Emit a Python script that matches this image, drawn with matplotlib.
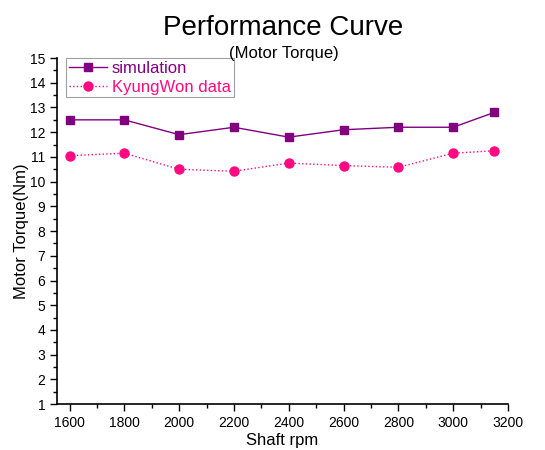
import numpy as np
import matplotlib.pyplot as plt
from matplotlib.ticker import MultipleLocator

plt.rcParams['font.family'] = ['Liberation Sans', 'DejaVu Sans']

# data
rpm = [1600, 1800, 2000, 2200, 2400, 2600, 2800, 3000, 3150]
simulation = [12.5, 12.5, 11.9, 12.2, 11.8, 12.1, 12.2, 12.2, 12.8]
kyungwon = [11.05, 11.15, 10.5, 10.42, 10.75, 10.65, 10.58, 11.15, 11.25]

fig = plt.figure(figsize=(5.45, 4.5), dpi=100)
ax = fig.add_axes([0.105, 0.102, 0.827, 0.769])

ax.plot(rpm, simulation, '-s', color='#800080', lw=1.0, ms=6, label='simulation')
ax.plot(rpm, kyungwon, ':o', color='#ff0a80', lw=1.0, ms=6.5, label='KyungWon data')

ax.set_xlim(1555, 3200)
ax.set_ylim(1, 15)
ax.xaxis.set_major_locator(MultipleLocator(200))
ax.xaxis.set_minor_locator(MultipleLocator(100))
ax.yaxis.set_major_locator(MultipleLocator(1))
ax.yaxis.set_minor_locator(MultipleLocator(0.5))

# only left and bottom spines, ticks pointing out
ax.spines['top'].set_visible(False)
ax.spines['right'].set_visible(False)
ax.spines['left'].set_linewidth(1.2)
ax.spines['bottom'].set_linewidth(1.2)
ax.tick_params(which='major', direction='out', length=5, width=1, labelsize=10)
ax.tick_params(which='minor', direction='out', length=3, width=1)

ax.set_xlabel('Shaft rpm', fontsize=12, labelpad=2)
ax.set_ylabel('Motor Torque(Nm)', fontsize=12, labelpad=1)

leg = ax.legend(loc='upper left', bbox_to_anchor=(0.02, 1.0), fontsize=12,
                frameon=True, fancybox=False, borderpad=0.15,
                handlelength=2.3, handletextpad=0.3, labelspacing=0.25,
                borderaxespad=0.0)
leg.get_frame().set_edgecolor('#888888')
leg.get_frame().set_linewidth(0.8)
for txt, c in zip(leg.get_texts(), ['#800080', '#ff0a80']):
    txt.set_color(c)

fig.text(0.52, 0.938, 'Performance Curve', ha='center', va='center', fontsize=20)
fig.text(0.52, 0.882, '(Motor Torque)', ha='center', va='center', fontsize=12)

plt.savefig('out.png', dpi=100)
